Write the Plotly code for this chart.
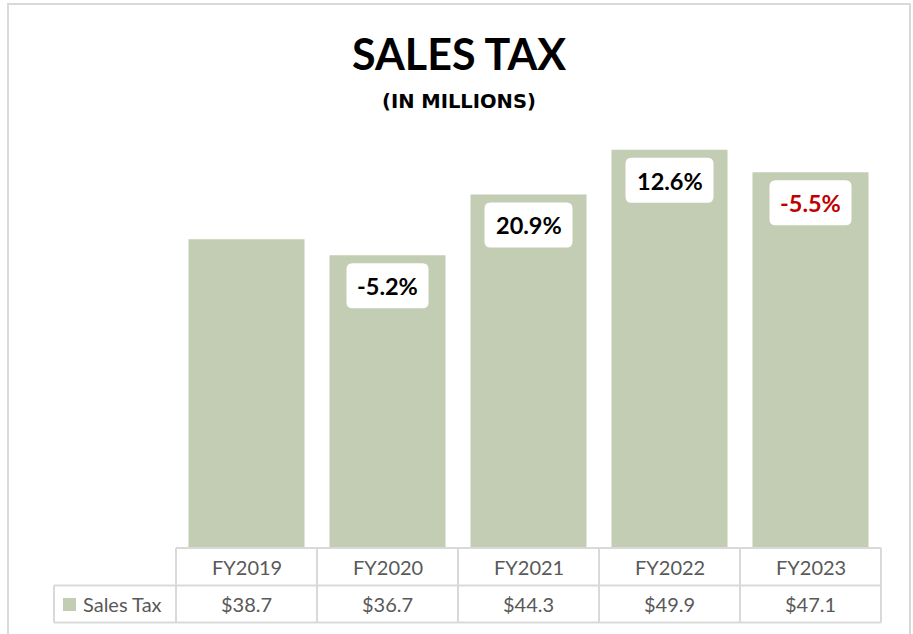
import plotly.graph_objects as go

categories = ["FY2019", "FY2020", "FY2021", "FY2022", "FY2023"]
sales_tax = [38.7, 36.7, 44.3, 49.9, 47.1]
value_labels = ["$38.7", "$36.7", "$44.3", "$49.9", "$47.1"]
pct_labels = ["", "-5.2%", "20.9%", "12.6%", "-5.5%"]
pct_colors = ["#000000", "#000000", "#000000", "#000000", "#c00000"]
series_name = "Sales Tax"

BAR = "#c3cdb3"
GRID = "#d9d9d9"
TXT = "#595959"
FONT = "Lato"

W, H = 913, 634
L, R, T, B = 176, 32, 149, 86
ph = H - T - B  # plot height in px
pw = W - L - R

def py(pix):  # pixel y -> paper y
    return (H - B - pix) / ph

def px(pix):  # pixel x -> paper x
    return (pix - L) / pw

fig = go.Figure()
fig.add_trace(go.Bar(x=categories, y=sales_tax, marker=dict(color=BAR, line=dict(width=0)),
                     name=series_name, showlegend=False, hoverinfo="x+y"))

shapes = []
annotations = []

# percentage labels in white rounded boxes
for c, v, lab, col in zip(categories, sales_tax, pct_labels, pct_colors):
    if not lab:
        continue
    hw = 41 if lab.startswith("-") else 44
    top, bot, r = -8, -53, 6
    path = (f"M {-hw + r},{top} L {hw - r},{top} Q {hw},{top} {hw},{top - r} "
            f"L {hw},{bot + r} Q {hw},{bot} {hw - r},{bot} L {-hw + r},{bot} "
            f"Q {-hw},{bot} {-hw},{bot + r} L {-hw},{top - r} Q {-hw},{top} {-hw + r},{top} Z")
    shapes.append(dict(type="path", xref="x", yref="y", xsizemode="pixel", ysizemode="pixel",
                       xanchor=c, yanchor=v, path=path, fillcolor="white",
                       line=dict(width=0), layer="above"))
    annotations.append(dict(x=c, y=v, xref="x", yref="y", text=f"<b>{lab}</b>", showarrow=False,
                            yshift=-31, xanchor="center", yanchor="middle",
                            font=dict(family=FONT, size=23.5, color=col)))

# data table lines
line = dict(color=GRID, width=2)
y0, y1, y2 = py(548), py(585.5), py(622.5)
shapes.append(dict(type="line", xref="paper", yref="paper", x0=0, x1=1, y0=y0, y1=y0, line=line))
shapes.append(dict(type="line", xref="paper", yref="paper", x0=px(54), x1=1, y0=y1, y1=y1, line=line))
shapes.append(dict(type="line", xref="paper", yref="paper", x0=px(54), x1=1, y0=y2, y1=y2, line=line))
for i in range(len(categories) + 1):
    xv = i / len(categories)
    shapes.append(dict(type="line", xref="paper", yref="paper", x0=xv, x1=xv, y0=y0, y1=y2, line=line))
shapes.append(dict(type="line", xref="paper", yref="paper", x0=px(54), x1=px(54), y0=y1, y1=y2, line=line))

# legend swatch
shapes.append(dict(type="rect", xref="paper", yref="paper", x0=px(63), x1=px(76),
                   y0=py(611), y1=py(598), fillcolor=BAR, line=dict(width=0)))

# outer chart border
shapes.append(dict(type="rect", xref="paper", yref="paper", x0=px(8), x1=px(910),
                   y0=py(660), y1=py(4), line=dict(color=GRID, width=2), fillcolor="rgba(0,0,0,0)"))

for c, vl in zip(categories, value_labels):
    annotations.append(dict(x=c, y=(y0 + y1) / 2, xref="x", yref="paper", text=c, showarrow=False,
                            xanchor="center", yanchor="middle",
                            font=dict(family=FONT, size=20, color=TXT)))
    annotations.append(dict(x=c, y=(y1 + y2) / 2, xref="x", yref="paper", text=vl, showarrow=False,
                            xanchor="center", yanchor="middle",
                            font=dict(family=FONT, size=20, color=TXT)))
annotations.append(dict(x=px(81), y=(y1 + y2) / 2, xref="paper", yref="paper", text=series_name,
                        xanchor="left", yanchor="middle", showarrow=False,
                        font=dict(family=FONT, size=20, color=TXT)))

# title & subtitle
annotations.append(dict(x=px(W / 2 + 2), y=py(54), xref="paper", yref="paper", text="<b>SALES TAX</b>",
                        showarrow=False, xanchor="center", yanchor="middle",
                        font=dict(family=FONT, size=43, color="#000000")))
annotations.append(dict(x=px(W / 2 + 2), y=py(102), xref="paper", yref="paper", text="<b>(IN MILLIONS)</b>",
                        showarrow=False, xanchor="center", yanchor="middle",
                        font=dict(family="DejaVu Sans", size=19.5, color="#000000")))

fig.update_layout(
    width=W, height=H, margin=dict(l=L, r=R, t=T, b=B),
    paper_bgcolor="white", plot_bgcolor="white",
    bargap=0.177,
    xaxis=dict(showticklabels=False, showgrid=False, zeroline=False, showline=False, ticks=""),
    yaxis=dict(range=[0, 50], visible=False, showgrid=False, zeroline=False),
    shapes=shapes, annotations=annotations,
    font=dict(family=FONT),
)

fig.write_html("out.html", config={"displayModeBar": False},
               post_script="document.body.style.margin='0';")
